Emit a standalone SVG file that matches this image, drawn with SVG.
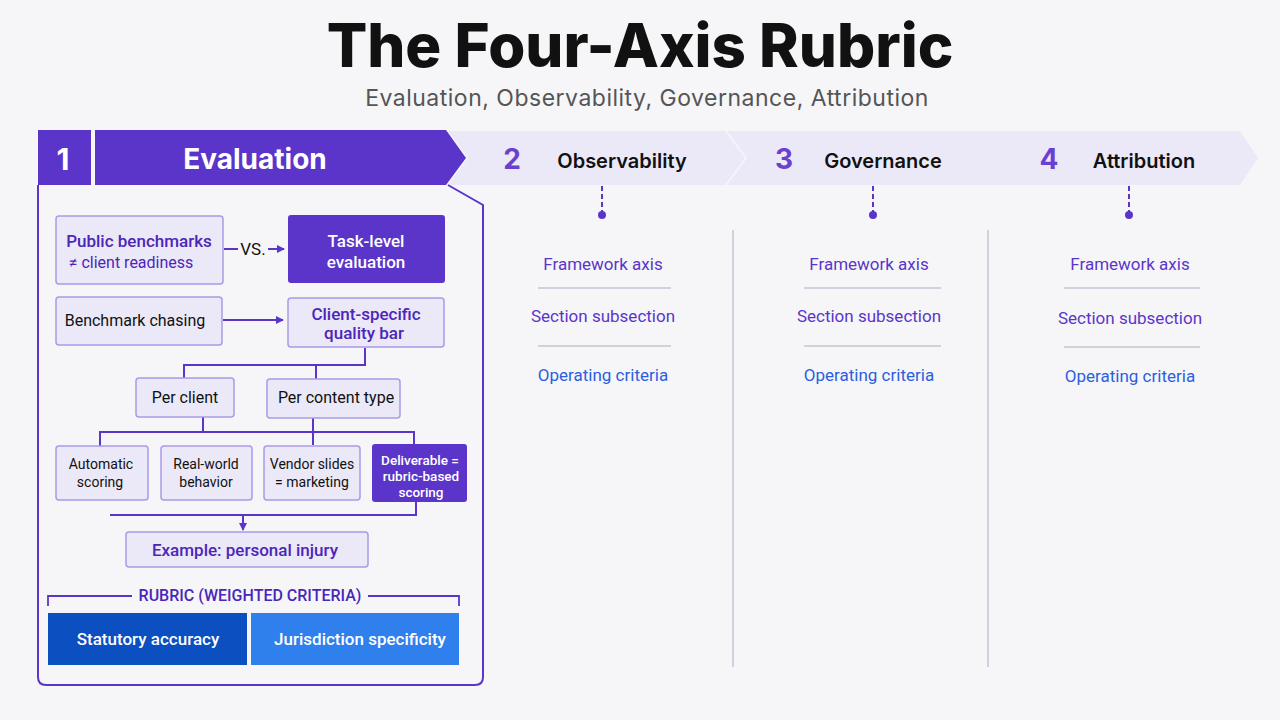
<svg xmlns="http://www.w3.org/2000/svg" width="1280" height="720" viewBox="0 0 1280 720">
<defs>
<marker id="ah" markerWidth="8" markerHeight="8" refX="7" refY="4" orient="auto" markerUnits="userSpaceOnUse"><path d="M0,0 L8,4 L0,8 z" fill="#5b35c9"/></marker>
<style>
text{font-family:"Roboto","Liberation Sans",sans-serif;text-anchor:middle}
.hd{font-family:"Inter","Liberation Sans",sans-serif}
.box{fill:#ebe8f8;stroke:#a99be6;stroke-width:1.5}
.dk{fill:#5b35c9}
.ln{fill:none;stroke:#5b35c9;stroke-width:2}
.t{font-size:16px;fill:#111}
.tp{font-size:17px;fill:#4b26b8;font-weight:500}
.tw{font-size:17px;fill:#fff;font-weight:500}
.ci{font-size:17px;fill:#5b35c9}
.cb{font-size:17px;fill:#2a5fe0}
.sep{stroke:#c5c3d3;stroke-width:1.5}
</style>
</defs>
<rect width="1280" height="720" fill="#f6f6f9"/>
<text x="640" y="67" class="hd" style="font-size:60px;font-weight:800;fill:#111">The Four-Axis Rubric</text>
<text x="647" y="106" class="hd" style="font-size:23px;fill:#555;letter-spacing:0.5px">Evaluation, Observability, Governance, Attribution</text>

<g id="stage2"><path d="M448,131 L725,131 L745,158 L725,185 L448,185 L468,158 z" fill="#ebe8f8"/>
<text x="512" y="169" class="hd" style="font-size:28px;font-weight:700;fill:#6a40d0">2</text><text x="622" y="168" class="hd" style="font-size:20px;font-weight:600;fill:#111">Observability</text></g>
<g id="stage3"><path d="M727,131 L1000,131 L1020,158 L1000,185 L727,185 L747,158 z" fill="#ebe8f8"/>
<text x="784" y="169" class="hd" style="font-size:28px;font-weight:700;fill:#6a40d0">3</text><text x="883" y="168" class="hd" style="font-size:20px;font-weight:600;fill:#111">Governance</text></g>
<g id="stage4"><path d="M995,131 L1240,131 L1258,158 L1240,185 L995,185 L1015,158 z" fill="#ebe8f8"/>
<text x="1049" y="169" class="hd" style="font-size:28px;font-weight:700;fill:#6a40d0">4</text><text x="1144" y="168" class="hd" style="font-size:20px;font-weight:600;fill:#111">Attribution</text></g>

<g id="stage1">
<path d="M38,185 L38,677 Q38,685 46,685 L475,685 Q483,685 483,677 L483,205 L448,185" fill="none" stroke="#5b35c9" stroke-width="2"/>
<rect x="38" y="130" width="53" height="55" class="dk"/>
<path d="M95,130 L446,130 L466,158 L446,185 L95,185 z" class="dk"/>
<text x="63" y="170" class="hd" style="font-size:30px;font-weight:700;fill:#fff">1</text>
<text x="255" y="169" class="hd" style="font-size:28px;font-weight:700;fill:#fff">Evaluation</text>
</g>

<g id="connectors">
<path d="M224,249 L238,249" class="ln"/>
<path d="M268,249 L284,249" class="ln" marker-end="url(#ah)"/>
<path d="M223,320 L283,320" class="ln" marker-end="url(#ah)"/>
<path d="M365,348 L365,365 L184,365 L184,378 M316,365 L316,379" class="ln"/>
<path d="M203,417 L203,432 L100,432 L100,446 M203,432 L414,432 L414,444 M313,417 L313,445" class="ln"/>
<path d="M416,502 L416,515 L110,515 M243,515 L243,530" class="ln" marker-end="url(#ah)"/>
<path d="M48,606 L48,596 L132,596 M368,596 L459,596 L459,606" fill="none" stroke="#5b35c9" stroke-width="1.8"/>
<path d="M602,186 L602,212" stroke="#5b35c9" stroke-width="2" stroke-dasharray="5,3"/>
<circle cx="602" cy="215" r="4" fill="#5b35c9"/>
<path d="M873,186 L873,212" stroke="#5b35c9" stroke-width="2" stroke-dasharray="5,3"/>
<circle cx="873" cy="215" r="4" fill="#5b35c9"/>
<path d="M1129,186 L1129,212" stroke="#5b35c9" stroke-width="2" stroke-dasharray="5,3"/>
<circle cx="1129" cy="215" r="4" fill="#5b35c9"/>
</g>

<g id="n-public"><rect x="56" y="216" width="167" height="68" rx="3" class="box"/><text x="139" y="247" class="tp">Public benchmarks</text><text x="131" y="268" style="font-size:16px;fill:#4b26b8">≠ client readiness</text></g>
<text x="253" y="255" style="font-size:17px;fill:#111">VS.</text>
<g id="n-task"><rect x="288" y="215" width="157" height="68" rx="3" class="dk"/><text x="366" y="247" class="tw">Task-level</text><text x="366" y="268" class="tw">evaluation</text></g>
<g id="n-chasing"><rect x="56" y="297" width="166" height="48" rx="3" class="box"/><text x="135" y="326" class="t">Benchmark chasing</text></g>
<g id="n-quality"><rect x="288" y="298" width="156" height="49" rx="3" class="box"/><text x="366" y="320" class="tp">Client-specific</text><text x="364" y="339" class="tp">quality bar</text></g>
<g id="n-perclient"><rect x="136" y="378" width="98" height="39" rx="3" class="box"/><text x="185" y="403" class="t">Per client</text></g>
<g id="n-pertype"><rect x="267" y="379" width="133" height="39" rx="3" class="box"/><text x="336" y="403" class="t">Per content type</text></g>
<g id="n-auto"><rect x="56" y="446" width="92" height="54" rx="3" class="box"/><text x="101" y="469" style="font-size:14px;fill:#111">Automatic</text><text x="100" y="487" style="font-size:14px;fill:#111">scoring</text></g>
<g id="n-real"><rect x="161" y="446" width="91" height="54" rx="3" class="box"/><text x="206" y="469" style="font-size:14px;fill:#111">Real-world</text><text x="206" y="487" style="font-size:14px;fill:#111">behavior</text></g>
<g id="n-vendor"><rect x="264" y="446" width="96" height="54" rx="3" class="box"/><text x="312" y="469" style="font-size:14px;fill:#111">Vendor slides</text><text x="312" y="487" style="font-size:14px;fill:#111">= marketing</text></g>
<g id="n-deliv"><rect x="372" y="444" width="95" height="58" rx="3" class="dk"/><text x="420" y="465" style="font-size:13.5px;fill:#fff;font-weight:500">Deliverable =</text><text x="421" y="481" style="font-size:13.5px;fill:#fff;font-weight:500">rubric-based</text><text x="421" y="497" style="font-size:13.5px;fill:#fff;font-weight:500">scoring</text></g>
<g id="n-example"><rect x="126" y="532" width="242" height="35" rx="3" class="box"/><text x="245" y="556" class="tp">Example: personal injury</text></g>
<text x="250" y="601" style="font-size:16px;fill:#4b26b8;font-weight:500">RUBRIC (WEIGHTED CRITERIA)</text>
<g id="n-statutory"><rect x="48" y="613" width="199" height="52" fill="#0b4fc0"/><text x="148" y="645" class="tw">Statutory accuracy</text></g>
<g id="n-juris"><rect x="251" y="613" width="208" height="52" fill="#2f80ed"/><text x="360" y="645" class="tw">Jurisdiction specificity</text></g>

<g id="col2"><text x="603" y="270" class="ci">Framework axis</text><line x1="538" y1="288" x2="671" y2="288" class="sep"/><text x="603" y="322" class="ci">Section subsection</text><line x1="538" y1="346" x2="671" y2="346" class="sep"/><text x="603" y="381" class="cb">Operating criteria</text></g>
<line x1="733" y1="230" x2="733" y2="667" class="sep"/>
<g id="col3"><text x="869" y="270" class="ci">Framework axis</text><line x1="804" y1="288" x2="941" y2="288" class="sep"/><text x="869" y="322" class="ci">Section subsection</text><line x1="804" y1="346" x2="941" y2="346" class="sep"/><text x="869" y="381" class="cb">Operating criteria</text></g>
<line x1="988" y1="230" x2="988" y2="667" class="sep"/>
<g id="col4"><text x="1130" y="270" class="ci">Framework axis</text><line x1="1064" y1="288" x2="1200" y2="288" class="sep"/><text x="1130" y="324" class="ci">Section subsection</text><line x1="1064" y1="347" x2="1200" y2="347" class="sep"/><text x="1130" y="382" class="cb">Operating criteria</text></g>
</svg>
